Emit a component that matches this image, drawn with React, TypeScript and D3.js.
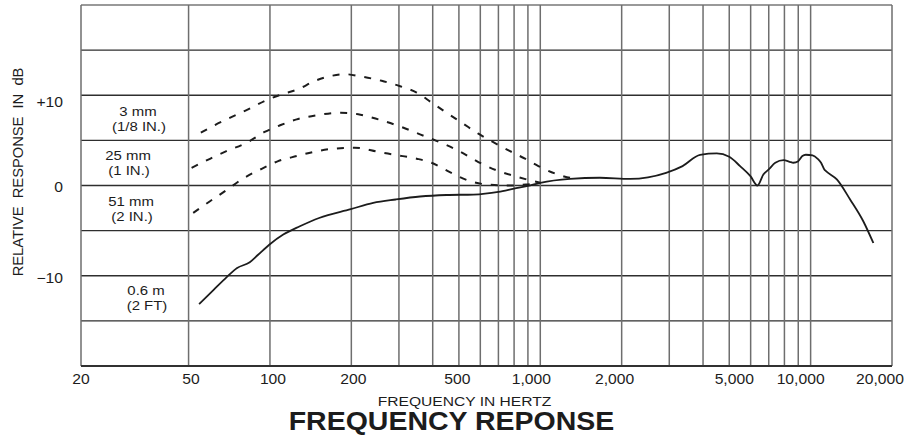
import React from 'react';
import * as d3 from 'd3';

// frequency response data: [Hz, dB]
const curve3mm: [number, number][] = [
  [55.5, 5.85], [62.6, 6.7], [71, 7.5], [83, 8.44], [96.7, 9.44], [110.5, 10.1],
  [127, 10.67], [147, 11.6], [169, 12.15], [190, 12.33], [218, 12.07], [259, 11.6],
  [303, 11.0], [349, 10.3], [396, 9.19], [450, 8.07], [516, 6.9], [590, 5.74],
  [670, 4.8], [773, 3.81], [878, 2.97], [984, 2.15], [1134, 1.33], [1289, 0.86], [1350, 0.8],
];
const curve25mm: [number, number][] = [
  [51.3, 1.96], [60, 2.96], [69, 3.8], [82, 4.74], [95.6, 5.93], [109, 6.67],
  [125.6, 7.33], [149, 7.78], [182.6, 8.07], [212, 7.9], [251.5, 7.33], [312, 6.4],
  [359, 5.67], [444, 4.55], [502, 3.8], [590, 2.6], [690, 1.67], [806, 1.04],
  [942, 0.48], [1000, 0.3],
];
const curve51mm: [number, number][] = [
  [52, -3.04], [60, -1.74], [69, -0.52], [79.6, 0.78], [93.2, 1.85], [107.2, 2.7],
  [125.6, 3.26], [149, 3.8], [171, 4.07], [206, 4.19], [254, 3.7], [294, 3.37],
  [349, 2.97], [396, 2.52], [463, 1.48], [542, 0.55], [634, 0.11], [752, 0.0],
  [885, 0.1], [1000, 0.3],
];
const curve06m: [number, number][] = [
  [54.7, -13.15], [61.9, -11.56], [69.2, -10.15], [75.6, -9.15], [84.2, -8.5],
  [90.4, -7.67], [99.4, -6.56], [112, -5.44], [129, -4.52], [152, -3.6], [199, -2.62],
  [241, -1.93], [292, -1.55], [359, -1.22], [450, -1.05], [566, -1.0], [700, -0.7],
  [800, -0.35], [900, -0.05], [1000, 0.3], [1289, 0.74], [1660, 0.86], [2150, 0.74],
  [2920, 1.41], [3360, 2.15], [3900, 3.4], [4497, 3.55], [5000, 3.19], [5484, 2.15],
  [5990, 1.04], [6356, 0.0], [6686, 1.22], [7000, 1.78], [7400, 2.52], [7940, 2.81],
  [8370, 2.63], [8630, 2.52], [9000, 2.7], [9320, 3.26], [9600, 3.41], [10170, 3.33],
  [10620, 2.96], [10930, 2.52], [11240, 1.78], [11400, 1.59], [12500, 0.67],
  [14000, -1.55], [15660, -3.96], [17060, -6.37],
];

const seriesNames = ['3 mm', '25 mm', '51 mm', '0.6 m'];
const seriesSubs = ['(1/8 IN.)', '(1 IN.)', '(2 IN.)', '(2 FT)'];

const xGrid = [20, 50, 100, 200, 300, 400, 500, 600, 700, 800, 900, 1000,
  2000, 3000, 4000, 5000, 6000, 7000, 8000, 9000, 10000, 20000];
const xTicks = [20, 50, 100, 200, 500, 1000, 2000, 5000, 10000, 20000];
const yGrid = [-20, -15, -10, -5, 0, 5, 10, 15, 20];
const yTicks = [10, 0, -10];

// styling / placement tweaks
const xLabelNudge: Record<number, number> = {
  20: 0, 50: 2.5, 100: 3, 200: 2, 500: -1.5, 1000: -9, 2000: -7, 5000: 5, 10000: -10, 20000: -12,
};
const yLabelNudge: Record<number, number> = { 10: 6.5, 0: 1, [-10]: 2.5 };
const labelDb = [7.42, 2.5, -2.5, -12.4];
const labelX = [138, 128, 131, 146];

const FONT = '"Liberation Sans", Arial, Helvetica, sans-serif';
const INK = '#1c1c1c';

const width = 907;
const height = 438;

const x = d3.scaleLog().domain([20, 20000]).range([81, 892]);
const y = d3.scaleLinear().domain([-20, 20]).range([366, 5]);

const line = d3.line<[number, number]>()
  .x(d => x(d[0]))
  .y(d => y(d[1]))
  .curve(d3.curveMonotoneX);

const fmt = d3.format(',');

const Txt = ({ tx, ty, sx = 1, size = 14, anchor = 'middle', weight = 'normal', rot = 0, children }: any) => (
  <text
    transform={`translate(${tx},${ty})${rot ? ` rotate(${rot})` : ''} scale(${sx},1)`}
    textAnchor={anchor}
    fontSize={size}
    fontWeight={weight}
    fill={INK}
    style={{ whiteSpace: 'pre' }}
  >
    {children}
  </text>
);

export default function App() {
  const dashed = [curve3mm, curve25mm, curve51mm];
  return (
    <svg
      width={width}
      height={height}
      style={{ position: 'absolute', left: 0, top: 0, background: '#fff' }}
      fontFamily={FONT}
    >
      <rect width={width} height={height} fill="#fff" />

      {/* grid */}
      <g>
        {yGrid.map(v => (
          <line key={'h' + v} x1={x(20)} x2={x(20000)} y1={y(v)} y2={y(v)}
            stroke={v === 20 ? '#777' : '#2e2e2e'} strokeWidth={1.3} />
        ))}
        {xGrid.map(f => (
          <line key={'v' + f} x1={x(f)} x2={x(f)} y1={y(20)} y2={y(-20)}
            stroke="#6e6e6e" strokeWidth={1.5} />
        ))}
        <line x1={x(20)} x2={x(20000)} y1={y(-20)} y2={y(-20)} stroke="#222" strokeWidth={1.4} />
      </g>

      {/* curves */}
      {dashed.map((c, i) => (
        <path key={'d' + i} d={line(c) || ''} fill="none" stroke={INK}
          strokeWidth={2} strokeDasharray="7,9" />
      ))}
      <path d={line(curve06m) || ''} fill="none" stroke={INK} strokeWidth={1.8} />

      {/* series labels */}
      {seriesNames.map((n, i) => (
        <g key={'l' + n}>
          <Txt tx={labelX[i]} ty={y(labelDb[i]) - 2.5} size={13} sx={1.15}>{n}</Txt>
          <Txt tx={labelX[i] + 1} ty={y(labelDb[i]) + 12.5} size={13} sx={1.15}>{seriesSubs[i]}</Txt>
        </g>
      ))}

      {/* x tick labels */}
      {xTicks.map(f => (
        <Txt key={'xt' + f} tx={x(f) + (xLabelNudge[f] || 0)} ty={384} sx={1.12}>{fmt(f)}</Txt>
      ))}

      {/* y tick labels */}
      {yTicks.map(v => (
        <Txt key={'yt' + v} tx={63} ty={y(v) + 5 + (yLabelNudge[v] || 0)} anchor="end" sx={1.12}>
          {v > 0 ? `+${v}` : v < 0 ? `\u2212${-v}` : '0'}
        </Txt>
      ))}

      {/* axis titles */}
      <Txt tx={23} ty={172} rot={-90} sx={1.05}>{'RELATIVE  RESPONSE  IN  dB'}</Txt>
      <Txt tx={464.5} ty={406} size={13} sx={1.2}>FREQUENCY IN HERTZ</Txt>
      <Txt tx={451.5} ty={430} size={25} sx={1.14} weight="bold">FREQUENCY REPONSE</Txt>
    </svg>
  );
}
